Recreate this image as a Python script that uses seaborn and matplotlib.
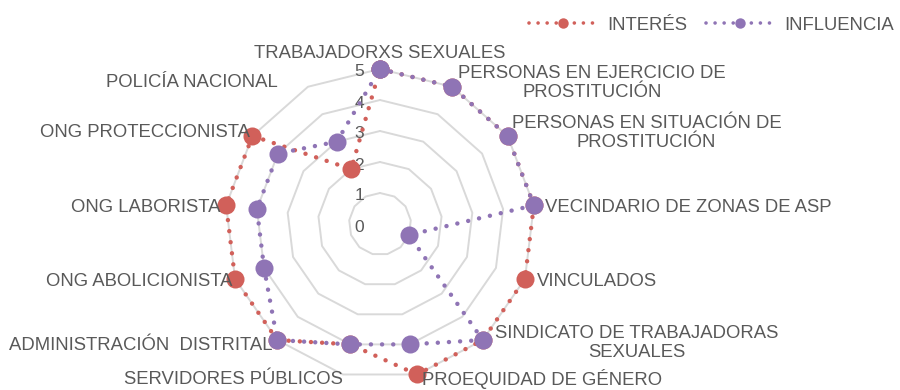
import numpy as np
import pandas as pd
import matplotlib
matplotlib.use("Agg")
import matplotlib.pyplot as plt
import seaborn as sns

# %% data
categorias = [
    "TRABAJADORXS SEXUALES",
    "PERSONAS EN EJERCICIO DE\nPROSTITUCIÓN",
    "PERSONAS EN SITUACIÓN DE\nPROSTITUCIÓN",
    "VECINDARIO DE ZONAS DE ASP",
    "VINCULADOS",
    "SINDICATO DE TRABAJADORAS\nSEXUALES",
    "PROEQUIDAD DE GÉNERO",
    "SERVIDORES PÚBLICOS",
    "ADMINISTRACIÓN  DISTRITAL",
    "ONG ABOLICIONISTA",
    "ONG LABORISTA",
    "ONG PROTECCIONISTA",
    "POLICÍA NACIONAL",
]
interes = [5, 5, 5, 5, 5, 5, 5, 4, 5, 5, 5, 5, 2]
influencia = [5, 5, 5, 5, 1, 5, 4, 4, 5, 4, 4, 4, 3]
niveles = [0, 1, 2, 3, 4, 5]

# label nudges in pixels (dx, dy up) from the outer ring vertex
label_offsets = [(0, 16), (6, 4), (4, 3), (11, -2), (12, -3), (12, -3), (5, -5),
                 (0, -5), (-5, -5), (-3, -3), (-6, -2), (-2, 3), (-30, 4)]

ROJO = "#D1605A"
MORADO = "#8F74B5"
GRIS = "#595959"

sns.set_theme(style="white")
plt.rcParams["font.family"] = ["Liberation Sans", "DejaVu Sans"]

n = len(categorias)
theta = np.linspace(0, 2 * np.pi, n, endpoint=False)
theta_c = np.append(theta, theta[0])

df = pd.DataFrame({
    "theta": np.concatenate([theta_c, theta_c]),
    "valor": interes + interes[:1] + influencia + influencia[:1],
    "serie": ["INTERÉS"] * (n + 1) + ["INFLUENCIA"] * (n + 1),
})

fig = plt.figure(figsize=(9, 3.9), dpi=100)
ax = fig.add_axes([225 / 900, 11 / 390, 310 / 900, 310 / 390], projection="polar")
ax.set_theta_offset(np.pi / 2)
ax.set_theta_direction(-1)
ax.set_ylim(0, 5)
ax.grid(False)
ax.spines["polar"].set_visible(False)
ax.set_xticks([])
ax.set_yticks([])
ax.patch.set_alpha(0)

# polygon grid rings
for r in niveles[1:]:
    ax.plot(theta_c, [r] * (n + 1), color="#D9D9D9", lw=1.4, zorder=0, clip_on=False)

# radial tick labels
px = 72 / fig.dpi
for r in niveles:
    ax.annotate(str(r), xy=(0, r), xytext=(-21 * px, -3 * px), textcoords="offset points",
                ha="center", va="center", fontsize=12.5, color=GRIS, annotation_clip=False)

estilo = dict(linestyle=(0, (0.01, 2.5)), dash_capstyle="round", lw=3.2,
              marker="o", markersize=13, markeredgewidth=0, clip_on=False)
for nombre, color, z in [("INTERÉS", ROJO, 3), ("INFLUENCIA", MORADO, 4)]:
    sns.lineplot(data=df[df["serie"] == nombre], x="theta", y="valor", sort=False,
                 estimator=None, color=color, ax=ax, label=nombre, zorder=z, **estilo)
ax.set_xlabel("")
ax.set_ylabel("")

# category labels
for i, (t, lab) in enumerate(zip(theta, categorias)):
    sx = np.sin(t)
    ha = "left" if sx > 0.1 else ("right" if sx < -0.1 else "center")
    dx, dy = label_offsets[i]
    ax.annotate(lab, xy=(t, 5), xytext=(dx * px, dy * px), textcoords="offset points",
                ha=ha, va="center", multialignment="center", fontsize=13.3,
                color=GRIS, linespacing=1.15, annotation_clip=False)

handles, labels = ax.get_legend_handles_labels()
ax.get_legend().remove()
leg = fig.legend(handles, labels, loc="upper right", bbox_to_anchor=(1.012, 1.0), ncol=2,
                 frameon=False, fontsize=13.3, handlelength=3.7, numpoints=1,
                 columnspacing=1.0, handletextpad=0.55, labelcolor=GRIS)
for h in leg.legend_handles:
    h.set_markersize(7.5)
    h.set_linewidth(2.6)

fig.savefig("out.png", dpi=100)
